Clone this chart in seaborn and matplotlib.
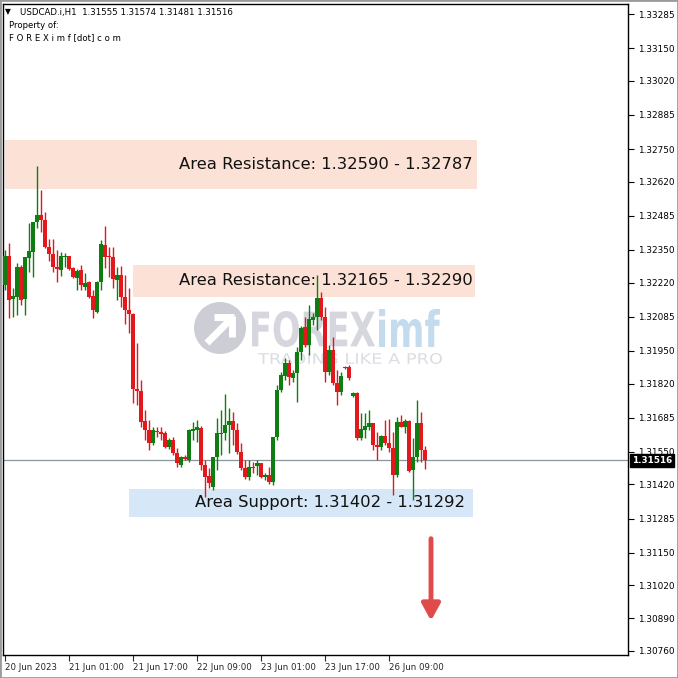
import numpy as np
import pandas as pd
import matplotlib
matplotlib.use("Agg")
import matplotlib.pyplot as plt
import matplotlib.transforms as mtransforms
import seaborn as sns
from matplotlib.patches import Rectangle, Circle, PathPatch
from matplotlib.lines import Line2D
from matplotlib.textpath import TextPath
from matplotlib.font_manager import FontProperties

# hourly USDCAD candles, 20 Jun 2023 09:00 -> 26 Jun 2023 18:00 (weekend skipped)
opens = [1.32211, 1.32326, 1.32155, 1.32163, 1.32282, 1.32155, 1.32318, 1.32342, 1.32460, 1.32488,
         1.32468, 1.32361, 1.32334, 1.32282, 1.32270, 1.32322, 1.32326, 1.32278, 1.32238, 1.32270,
         1.32203, 1.32223, 1.32167, 1.32104, 1.32223, 1.32369, 1.32326, 1.32322, 1.32231, 1.32250,
         1.32163, 1.32112, 1.32096, 1.31799, 1.31791, 1.31672, 1.31636, 1.31584, 1.31632, 1.31628,
         1.31624, 1.31569, 1.31596, 1.31545, 1.31497, 1.31529, 1.31517, 1.31632, 1.31636, 1.31644,
         1.31497, 1.31454, 1.31410, 1.31529, 1.31620, 1.31624, 1.31656, 1.31672, 1.31636, 1.31549,
         1.31485, 1.31450, 1.31489, 1.31493, 1.31505, 1.31450, 1.31458, 1.31430, 1.31608, 1.31795,
         1.31850, 1.31902, 1.31842, 1.31862, 1.31945, 1.32044, 1.31973, 1.32072, 1.32084, 1.32159,
         1.32084, 1.31866, 1.31953, 1.31822, 1.31787, 1.31886, 1.31886, 1.31771, 1.31783, 1.31604,
         1.31636, 1.31648, 1.31664, 1.31577, 1.31569, 1.31612, 1.31584, 1.31565, 1.31458, 1.31668,
         1.31648, 1.31672, 1.31477, 1.31529, 1.31664, 1.31555]
highs = [1.32350, 1.32377, 1.32199, 1.32298, 1.32290, 1.32322, 1.32457, 1.32460, 1.32682, 1.32587,
         1.32500, 1.32393, 1.32393, 1.32350, 1.32342, 1.32338, 1.32326, 1.32282, 1.32274, 1.32290,
         1.32258, 1.32227, 1.32191, 1.32227, 1.32389, 1.32445, 1.32361, 1.32361, 1.32282, 1.32286,
         1.32250, 1.32199, 1.32100, 1.31981, 1.31834, 1.31715, 1.31676, 1.31648, 1.31648, 1.31648,
         1.31632, 1.31604, 1.31608, 1.31565, 1.31533, 1.31537, 1.31640, 1.31668, 1.31676, 1.31652,
         1.31517, 1.31485, 1.31529, 1.31684, 1.31715, 1.31779, 1.31723, 1.31707, 1.31664, 1.31584,
         1.31517, 1.31517, 1.31509, 1.31517, 1.31505, 1.31466, 1.31489, 1.31608, 1.31814, 1.31866,
         1.31921, 1.31914, 1.31874, 1.31965, 1.32048, 1.32084, 1.32131, 1.32100, 1.32250, 1.32183,
         1.32124, 1.31973, 1.32005, 1.31874, 1.31866, 1.31890, 1.31894, 1.31787, 1.31787, 1.31703,
         1.31703, 1.31715, 1.31664, 1.31628, 1.31616, 1.31676, 1.31680, 1.31628, 1.31688, 1.31695,
         1.31680, 1.31676, 1.31604, 1.31755, 1.31707, 1.31574]
lows = [1.32191, 1.32080, 1.32084, 1.32092, 1.32131, 1.32092, 1.32262, 1.32242, 1.32437, 1.32421,
        1.32357, 1.32306, 1.32262, 1.32223, 1.32246, 1.32282, 1.32270, 1.32238, 1.32191, 1.32191,
        1.32191, 1.32159, 1.32080, 1.32100, 1.32191, 1.32278, 1.32242, 1.32199, 1.32151, 1.32124,
        1.32056, 1.32021, 1.31743, 1.31735, 1.31648, 1.31596, 1.31557, 1.31577, 1.31608, 1.31596,
        1.31565, 1.31561, 1.31537, 1.31489, 1.31489, 1.31517, 1.31509, 1.31596, 1.31588, 1.31477,
        1.31370, 1.31406, 1.31398, 1.31477, 1.31537, 1.31596, 1.31545, 1.31577, 1.31541, 1.31477,
        1.31442, 1.31438, 1.31466, 1.31458, 1.31446, 1.31438, 1.31422, 1.31418, 1.31596, 1.31787,
        1.31834, 1.31814, 1.31826, 1.31747, 1.31914, 1.31965, 1.31933, 1.32052, 1.32032, 1.32072,
        1.31826, 1.31854, 1.31814, 1.31735, 1.31775, 1.31878, 1.31834, 1.31767, 1.31596, 1.31596,
        1.31604, 1.31636, 1.31557, 1.31517, 1.31557, 1.31577, 1.31549, 1.31378, 1.31450, 1.31648,
        1.31624, 1.31470, 1.31359, 1.31509, 1.31509, 1.31481]
closes = [1.32326, 1.32151, 1.32167, 1.32282, 1.32151, 1.32322, 1.32346, 1.32460, 1.32488, 1.32468,
          1.32361, 1.32334, 1.32282, 1.32274, 1.32326, 1.32326, 1.32274, 1.32242, 1.32266, 1.32211,
          1.32219, 1.32163, 1.32112, 1.32223, 1.32373, 1.32322, 1.32322, 1.32234, 1.32250, 1.32163,
          1.32112, 1.32096, 1.31799, 1.31791, 1.31668, 1.31636, 1.31584, 1.31636, 1.31628, 1.31620,
          1.31569, 1.31596, 1.31545, 1.31505, 1.31529, 1.31521, 1.31636, 1.31640, 1.31648, 1.31497,
          1.31450, 1.31426, 1.31529, 1.31624, 1.31624, 1.31656, 1.31672, 1.31636, 1.31549, 1.31485,
          1.31450, 1.31489, 1.31485, 1.31505, 1.31450, 1.31458, 1.31430, 1.31608, 1.31795, 1.31854,
          1.31902, 1.31846, 1.31862, 1.31945, 1.32040, 1.31973, 1.32076, 1.32084, 1.32159, 1.32084,
          1.31866, 1.31953, 1.31822, 1.31787, 1.31850, 1.31882, 1.31842, 1.31783, 1.31604, 1.31640,
          1.31652, 1.31664, 1.31577, 1.31569, 1.31612, 1.31584, 1.31565, 1.31458, 1.31668, 1.31648,
          1.31672, 1.31473, 1.31529, 1.31664, 1.31557, 1.31516]

# price axis labels as shown by the terminal
price_ticks = [1.33285, 1.33150, 1.33020, 1.32885, 1.32750, 1.32620, 1.32485, 1.32350, 1.32220, 1.32085,
               1.31950, 1.31820, 1.31685, 1.31550, 1.31420, 1.31285, 1.31150, 1.31020, 1.30890, 1.30760]

# supply / demand zones
zone_names = ["Area Resistance", "Area Resistance", "Area Support"]
zone_lo = [1.32590, 1.32165, 1.31292]
zone_hi = [1.32787, 1.32290, 1.31402]
zone_text_lo = [1.32590, 1.32165, 1.31402]
zone_text_hi = [1.32787, 1.32290, 1.31292]

times = pd.date_range("2023-06-20 09:00", "2023-06-26 18:00", freq="h")
times = times[times.dayofweek < 5]

df = pd.DataFrame({"time": times, "open": opens, "high": highs, "low": lows, "close": closes})
df["x"] = np.arange(len(df))
df["bull"] = df["close"] >= df["open"]

sns.set_style("white")
plt.rcParams["font.family"] = ["DejaVu Sans"]

W = H = 678
fig = plt.figure(figsize=(6.78, 6.78), dpi=100)
fig.patch.set_facecolor("white")
ax = fig.add_axes([3 / W, 23 / H, 625 / W, 651 / H])

up_col = "#0f7d12"
dn_col = "#e2191c"


# pixel (top-left origin) -> figure inches transform, for the watermark
def px_trans():
    return mtransforms.Affine2D().scale(1, -1).translate(0, H).scale(1 / 100.0) + fig.dpi_scale_trans


def px_text(s, x0, y0, x1, y1, color, weight="bold"):
    tp = TextPath((0, 0), s, size=1, prop=FontProperties(family="DejaVu Sans", weight=weight))
    bb = tp.get_extents()
    tr = (mtransforms.Affine2D().translate(-bb.x0, -bb.y0)
          .scale((x1 - x0) / bb.width, -(y1 - y0) / bb.height).translate(x0, y1) + px_trans())
    ax.add_patch(PathPatch(tp, transform=tr, facecolor=color, edgecolor="none", zorder=0.5))


# zones (drawn below candles)
zone_x0 = [0, 32, 31]
zone_x1 = [118, 117.5, 117]
zone_cols = ["#fce2d6", "#fce2d6", "#d6e8f8"]
zone_text_x = [117, 117, 115]
for k in range(3):
    ax.add_patch(Rectangle((zone_x0[k], zone_lo[k]), zone_x1[k] - zone_x0[k], zone_hi[k] - zone_lo[k],
                           facecolor=zone_cols[k], edgecolor="none", zorder=0))
    ax.text(zone_text_x[k], (zone_lo[k] + zone_hi[k]) / 2,
            f"{zone_names[k]}: {zone_text_lo[k]:.5f} - {zone_text_hi[k]:.5f}",
            ha="right", va="center", fontsize=11.8, color="#111111", zorder=1)

# watermark logo
ax.add_patch(Circle((220, 328), 26, transform=px_trans(), facecolor="#cdcdd5", edgecolor="none", zorder=0.5))
for (xa, ya, xb, yb) in [(207, 343, 231, 319), (214, 317, 234, 317), (232, 316, 232, 337)]:
    ax.add_line(Line2D([xa, xb], [ya, yb], transform=px_trans(), color="white", lw=5,
                       solid_capstyle="butt", zorder=0.6))
px_text("FOREX", 252, 311, 375, 347, "#d6d6de")
px_text("imf", 379, 309, 440, 347, "#c4dbee")
px_text("TRADING LIKE A PRO", 258, 353, 442, 364, "#dcdce3", weight="normal")

# current price line
last = closes[-1]
ax.axhline(last, color="#8a969e", lw=0.9, zorder=1)

# candles
cols = np.where(df["bull"], up_col, dn_col)
ax.vlines(df["x"], df["low"], df["high"], colors=cols, lw=1.0, zorder=2)
body_lo = np.minimum(df["open"], df["close"])
body_h = np.maximum(np.abs(df["close"] - df["open"]), 0.00003)
ax.bar(df["x"], body_h, bottom=body_lo, width=0.8, color=cols, linewidth=0, zorder=3)

# red arrow
ax.annotate("", xy=(106.5, 1.30880), xytext=(106.5, 1.31205),
            arrowprops=dict(arrowstyle="-|>,head_width=0.55,head_length=1.0", color="#e04a4a",
                            lw=3.5, shrinkA=0, shrinkB=0), zorder=4)

ax.set_xlim(-0.5, 155.75)
ax.set_ylim(1.30744, 1.33325)

# axes styling
for s in ax.spines.values():
    s.set_color("black")
    s.set_linewidth(1.0)
ax.yaxis.tick_right()
ax.set_yticks(price_ticks)
ax.set_yticklabels([f"{v:.5f}" for v in price_ticks])
ax.tick_params(axis="y", which="both", right=True, left=False, length=4, width=0.8, direction="out",
               labelsize=6.4, pad=3, colors="black")

tick_idx = list(range(0, len(df), 16))
tick_lab = []
for i in tick_idx:
    t = df["time"].iloc[i]
    if i == 0:
        tick_lab.append(t.strftime("%d %b %Y"))
    else:
        tick_lab.append(t.strftime("%d %b %H:%M"))
ax.set_xticks(tick_idx)
ax.set_xticklabels(tick_lab, ha="left")
ax.tick_params(axis="x", bottom=True, length=4, width=0.8, direction="out", labelsize=6.2, pad=2)
ax.grid(False)

# price label on axis
ax.text(1.006, last, f"{last:.5f}", transform=ax.get_yaxis_transform(), ha="left", va="center",
        fontsize=6.4, color="white", fontweight="bold",
        bbox=dict(boxstyle="square,pad=0.2", facecolor="black", edgecolor="black"))

# header
fig.text(5 / W, 1 - 12 / H, "\u25BC", fontsize=5.5, color="black", va="center")
fig.text(20 / W, 1 - 12 / H,
         f"USDCAD.i,H1  {opens[-1]:.5f} {highs[-1]:.5f} {lows[-1]:.5f} {closes[-1]:.5f}",
         fontsize=6.2, color="black", va="center")
fig.text(9 / W, 1 - 25 / H, "Property of:", fontsize=6.1, color="black", va="center")
fig.text(9 / W, 1 - 38 / H, "F O R E X i m f [dot] c o m", fontsize=6.1, color="black", va="center")

# window border
fig.patches.append(Rectangle((0, 0), 1, 1, transform=fig.transFigure, fill=False,
                             edgecolor="#9a9a9a", lw=2))

fig.savefig("out.png", dpi=100)
